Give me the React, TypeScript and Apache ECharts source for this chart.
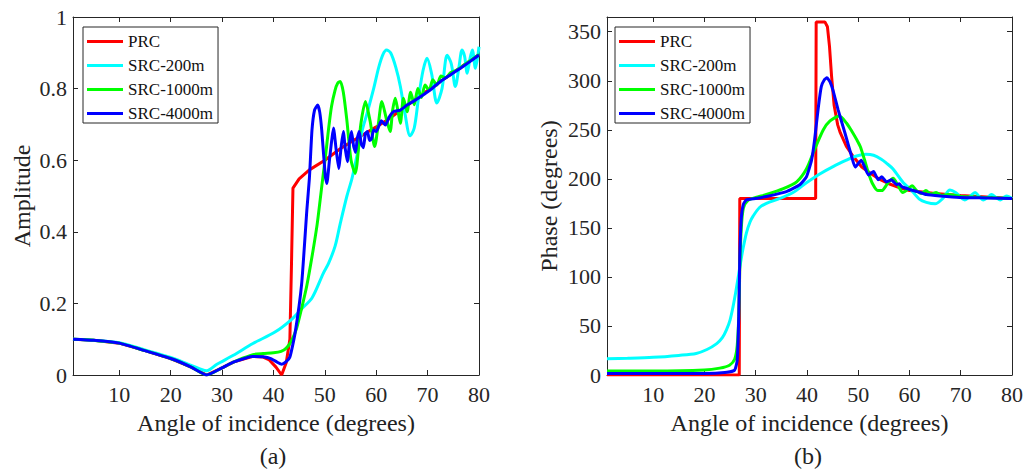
import React, { useEffect, useRef } from 'react';
import * as echarts from 'echarts';

type Pt = [number, number];

const seriesNames = ['PRC', 'SRC-200m', 'SRC-1000m', 'SRC-4000m'];
const seriesColors = ['#ff0000', '#00ffff', '#00ff00', '#0000ff'];
const panelLabels = ['(a)', '(b)'];
const xName = 'Angle of incidence (degrees)';
const yNames = ['Amplitude', 'Phase (degrees)'];

// Amplitude (panel a): [angle, amplitude]
const ampPRC: Pt[] = [
  [1, 0.1], [5, 0.097], [10, 0.089], [15, 0.068], [20, 0.046], [24, 0.022], [27, 0.0],
  [30, 0.02], [32.2, 0.036], [36, 0.052], [38, 0.05], [39.2, 0.042], [40.5, 0.022], [41.6, 0.0],
  [42.5, 0.035], [43.2, 0.1], [43.5, 0.3], [43.8, 0.522], [45, 0.548], [47, 0.573], [50, 0.6],
  [53, 0.632], [55, 0.65], [57.5, 0.672], [60, 0.693], [62.5, 0.716], [65, 0.742], [67.5, 0.768],
  [70, 0.795], [72.5, 0.82], [75, 0.845], [77.5, 0.87], [80, 0.895],
];
const ampSRC200: Pt[] = [
  [1, 0.1], [5, 0.097], [10, 0.09], [15, 0.07], [20, 0.049], [24, 0.027], [27, 0.012],
  [29, 0.03], [32.2, 0.055], [36, 0.088], [40.3, 0.12], [43.5, 0.155], [45.5, 0.185],
  [47.5, 0.215], [49.7, 0.284], [50.7, 0.311], [52, 0.36], [53, 0.423], [54.3, 0.5],
  [55.3, 0.55], [56.5, 0.63], [57.3, 0.685], [58.2, 0.73], [59.5, 0.8], [60.5, 0.86],
  [61.3, 0.895], [62, 0.908], [62.8, 0.9], [63.8, 0.86], [64.7, 0.806], [65.6, 0.73],
  [66.6, 0.668], [67.4, 0.69], [68.2, 0.77], [69.1, 0.85], [69.9, 0.885], [70.8, 0.84],
  [71.8, 0.76], [72.8, 0.8], [73.8, 0.893], [74.6, 0.87], [75.4, 0.806], [76.1, 0.86],
  [76.7, 0.908], [77.2, 0.89], [77.7, 0.843], [78.2, 0.88], [78.7, 0.908], [79.3, 0.857],
  [80, 0.917],
];
const ampSRC1000: Pt[] = [
  [1, 0.1], [5, 0.097], [10, 0.089], [15, 0.068], [20, 0.046], [24, 0.022], [27, 0.0],
  [30, 0.02], [32.2, 0.036], [34, 0.047], [36, 0.057], [38, 0.06], [40, 0.062], [41.5, 0.066],
  [42.5, 0.075], [43.5, 0.095], [44.5, 0.13], [45.5, 0.187], [46.5, 0.25], [47.5, 0.33],
  [48.5, 0.42], [49.1, 0.49], [49.6, 0.55], [50.2, 0.62], [50.7, 0.684], [51.3, 0.75],
  [52, 0.796], [52.5, 0.815], [53, 0.82], [53.6, 0.79], [54.3, 0.71], [55.1, 0.6],
  [55.9, 0.563], [57, 0.7], [57.9, 0.764], [58.8, 0.71], [59.7, 0.638], [60.4, 0.7],
  [61.1, 0.764], [61.9, 0.72], [62.7, 0.68], [63.2, 0.74], [63.7, 0.773], [64.2, 0.74],
  [64.7, 0.703], [65.3, 0.773], [66, 0.735], [66.7, 0.79], [67.4, 0.755], [68.1, 0.8],
  [68.8, 0.775], [69.5, 0.81], [70.3, 0.795], [71, 0.825], [71.8, 0.81], [72.6, 0.835],
  [73.5, 0.83], [74.5, 0.845], [75.5, 0.85], [76.5, 0.86], [77.5, 0.87], [78.5, 0.88],
  [80, 0.895],
];
const ampSRC4000: Pt[] = [
  [1, 0.1], [5, 0.097], [10, 0.089], [15, 0.068], [20, 0.046], [24, 0.022], [27, 0.0],
  [30, 0.02], [32.2, 0.036], [36, 0.052], [38, 0.051], [39.5, 0.046], [40.7, 0.036],
  [41.6, 0.03], [42.3, 0.035], [43.2, 0.05], [44.2, 0.116], [45.5, 0.256], [46.5, 0.46],
  [47, 0.55], [47.5, 0.684], [48, 0.74], [48.6, 0.754], [49, 0.735], [49.4, 0.684],
  [50.1, 0.554], [50.4, 0.535], [50.9, 0.6], [51.7, 0.69], [52.2, 0.63], [52.7, 0.577],
  [53.2, 0.64], [53.6, 0.68], [54, 0.63], [54.4, 0.596], [54.8, 0.65], [55.2, 0.68],
  [55.6, 0.64], [56, 0.622], [56.3, 0.66], [56.7, 0.68], [57.1, 0.645], [57.5, 0.635],
  [57.9, 0.675], [58.3, 0.68], [58.7, 0.655], [59.1, 0.66], [59.5, 0.685], [60, 0.68],
  [60.5, 0.695], [61, 0.71], [61.8, 0.698], [62.5, 0.72], [63.4, 0.736], [64.7, 0.74],
  [66, 0.754], [67.3, 0.765], [68.6, 0.777], [70.5, 0.796], [72.5, 0.82], [74.4, 0.838],
  [76.4, 0.857], [78.3, 0.876], [80, 0.894],
];

// Phase (panel b): [angle, degrees]
const phPRC: Pt[] = [
  [1, 0], [26.8, 0], [26.9, 180], [41.7, 180], [41.8, 360], [43.5, 360], [44, 355],
  [44.4, 335], [44.8, 305], [45.3, 275], [46, 255], [46.5, 247], [47.7, 233], [49, 223],
  [50.7, 212], [52.3, 206], [54, 200], [56, 195], [58, 191], [60, 188], [65, 185],
  [70, 183], [75, 181.5], [80, 180],
];
const phSRC200: Pt[] = [
  [1, 16.5], [5, 17], [10, 18], [15, 20], [18.4, 22], [20.5, 26], [22.4, 32], [23.5, 38],
  [24.3, 46], [25, 56], [25.6, 70], [26.1, 84], [26.6, 100], [27.1, 116], [27.5, 128],
  [28.2, 145], [28.9, 156], [29.5, 162], [30.8, 171], [32.1, 175], [34.7, 180], [37.3, 186],
  [39.9, 196], [42.5, 205], [45.1, 212.5], [47.7, 219], [49.5, 223], [51.5, 225], [53, 224],
  [54.5, 220], [55.5, 216], [56.8, 210], [58.8, 196], [60.1, 190], [62, 179], [63.3, 176],
  [65, 174.5], [66.5, 180], [67.9, 188.5], [69, 186], [70.8, 178.5], [71.8, 182],
  [72.8, 186], [73.6, 182], [74.4, 178.5], [75.2, 181], [76, 184], [76.9, 181], [77.7, 178.5],
  [78.4, 181], [79, 182.5], [80, 180],
];
const phSRC1000: Pt[] = [
  [1, 4], [10, 4], [20, 5], [23, 7], [24.9, 10], [25.9, 16], [26.4, 30], [26.7, 60],
  [26.9, 110], [27.2, 150], [27.6, 170], [28.5, 178], [30, 181], [32.1, 184], [35.4, 190],
  [38, 197], [39.9, 210], [41.5, 230], [43.2, 250], [44.5, 259], [46.3, 264], [47.7, 257],
  [48.7, 249], [49.7, 240], [50.4, 233], [51.2, 220], [52, 206], [52.8, 195], [53.8, 188],
  [54.6, 188], [55.7, 195], [56.8, 200.5], [57.8, 193], [58.7, 186], [59.6, 189], [60.5, 193],
  [61.4, 188], [62.3, 185], [63.2, 188], [64.2, 184.5], [65.2, 186], [66.3, 183],
  [67.5, 184], [70, 182], [75, 181], [80, 180],
];
const phSRC4000: Pt[] = [
  [1, 1.5], [20, 1.5], [24, 2.5], [25.9, 5], [26.4, 15], [26.7, 60], [26.9, 120],
  [27.2, 160], [27.6, 174], [28.2, 178.5], [30, 180], [32.1, 182], [36, 187], [38.6, 194],
  [39.9, 202], [40.9, 219], [41.5, 240], [42.2, 272], [42.8, 294], [43.4, 301], [43.9, 303],
  [44.5, 299], [45.1, 290], [46.1, 270], [47.4, 247], [48.7, 223], [49.4, 212], [50.6, 219],
  [52, 204], [53, 207.5], [53.9, 199], [54.6, 202], [55.5, 197], [56.5, 199], [57.5, 194],
  [58, 195], [58.5, 192], [60.1, 189], [61.5, 187], [63.3, 184], [66, 182.5], [69.8, 181],
  [75, 180.5], [80, 180],
];

const ampData = [ampPRC, ampSRC200, ampSRC1000, ampSRC4000];
const phData = [phPRC, phSRC200, phSRC1000, phSRC4000];
const smoothness = [0, 0.3, 0.25, 0.15];

const FONT = 'Liberation Serif';
const AXIS_COLOR = '#262626';

function buildOption(): any {
  const grids = [
    { left: 73, right: 549, top: 17, bottom: 96 },
    { left: 607, right: 16, top: 17, bottom: 96 },
  ];
  const xAxes: any[] = [];
  const yAxes: any[] = [];
  const yCfg = [
    { min: 0, max: 1, interval: 0.2, gap: 39 },
    { min: 0, max: 365, interval: 50, gap: 46 },
  ];
  const labelStyle = {
    fontFamily: FONT,
    fontSize: 22,
    fontWeight: 'normal',
    fontStyle: 'normal',
    color: AXIS_COLOR,
  };
  grids.forEach((_, g) => {
    const base = {
      type: 'value',
      gridIndex: g,
      min: 1,
      max: 80,
      splitNumber: 8,
      splitLine: { show: false },
      axisLine: { show: true, onZero: false, lineStyle: { color: AXIS_COLOR, width: 1 } },
      axisTick: { show: true, inside: true, length: 5, lineStyle: { color: AXIS_COLOR } },
    };
    xAxes.push({
      ...base,
      position: 'bottom',
      name: xName,
      nameLocation: 'middle',
      nameGap: 36,
      nameTextStyle: { fontFamily: FONT, fontSize: 24, fontWeight: 'normal', color: '#222' },
      axisLabel: {
        ...labelStyle,
        margin: 8,
        formatter: (v: number) => (v === 1 ? '' : String(v)),
      },
    });
    xAxes.push({ ...base, position: 'top', axisLabel: { show: false } });
    const yc = yCfg[g];
    const ybase = {
      type: 'value',
      gridIndex: g,
      min: yc.min,
      max: yc.max,
      interval: yc.interval,
      splitLine: { show: false },
      axisLine: { show: true, onZero: false, lineStyle: { color: AXIS_COLOR, width: 1 } },
      axisTick: { show: true, inside: true, length: 5, lineStyle: { color: AXIS_COLOR } },
    };
    yAxes.push({
      ...ybase,
      position: 'left',
      name: yNames[g],
      nameLocation: 'middle',
      nameGap: yc.gap,
      nameTextStyle: { fontFamily: FONT, fontSize: 24, fontWeight: 'normal', color: '#222' },
      axisLabel: {
        ...labelStyle,
        margin: 6,
        formatter: (v: number) =>
          g === 1 && v > 360 ? '' : String(Math.round(v * 100) / 100),
      },
    });
    yAxes.push({ ...ybase, position: 'right', axisLabel: { show: false } });
  });

  const series: any[] = [];
  [ampData, phData].forEach((set, g) => {
    set.forEach((data, i) => {
      series.push({
        type: 'line',
        name: seriesNames[i],
        xAxisIndex: g * 2,
        yAxisIndex: g * 2,
        data,
        symbol: 'none',
        showSymbol: false,
        smooth: g === 1 && i === 0 ? false : smoothness[i],
        lineStyle: { color: seriesColors[i], width: 3 },
        itemStyle: { color: seriesColors[i] },
        color: seriesColors[i],
        z: 2 + i,
      });
    });
  });

  const legendBase = {
    orient: 'vertical',
    top: 27,
    data: seriesNames,
    icon: 'rect',
    itemWidth: 36,
    itemHeight: 3,
    itemGap: 7,
    padding: [6, 5, 1, 4],
    borderColor: AXIS_COLOR,
    borderWidth: 1,
    backgroundColor: '#ffffff',
    selectedMode: false,
    textStyle: { fontFamily: FONT, fontSize: 17, fontWeight: 'normal', lineHeight: 17, color: '#111' },
  };

  return {
    animation: false,
    textStyle: { fontFamily: FONT },
    grid: grids,
    xAxis: xAxes,
    yAxis: yAxes,
    series,
    legend: [
      { ...legendBase, left: 83 },
      { ...legendBase, left: 615 },
    ],
    graphic: [
      {
        type: 'text',
        x: 273,
        y: 456,
        style: { text: panelLabels[0], fontFamily: FONT, fontSize: 24, fill: '#222', align: 'center', verticalAlign: 'middle' },
      },
      {
        type: 'text',
        x: 808,
        y: 456,
        style: { text: panelLabels[1], fontFamily: FONT, fontSize: 24, fill: '#222', align: 'center', verticalAlign: 'middle' },
      },
    ],
  };
}

export default function App() {
  const ref = useRef<HTMLDivElement>(null);
  useEffect(() => {
    document.body.style.margin = '0';
    if (!ref.current) return;
    const chart = echarts.init(ref.current, null, { renderer: 'svg' });
    chart.setOption(buildOption());
    return () => chart.dispose();
  }, []);
  return <div ref={ref} style={{ width: 1028, height: 471, background: '#fff' }} />;
}
